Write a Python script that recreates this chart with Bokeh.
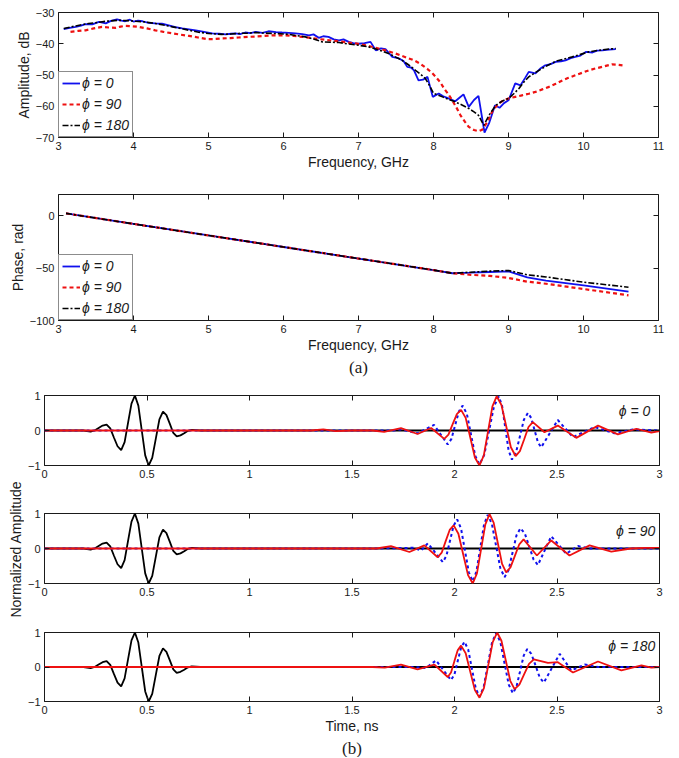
import math
from bokeh.plotting import figure
from bokeh.models import Range1d, FixedTicker, LinearAxis, Label, Title
from bokeh.layouts import column, row
from bokeh.embed import file_html
from bokeh.resources import INLINE

SANS = "Liberation Sans"
SERIF = "Liberation Serif"
INK = "#1a1a1a"
BLUE = "#1010ee"
RED = "#ee1111"

# ---------------- (a) amplitude ----------------
amp0_f = [3.07, 3.15, 3.23, 3.30, 3.36, 3.45, 3.54, 3.63, 3.70, 3.78, 3.84, 3.89, 3.95, 4.00, 4.06,
          4.12, 4.20, 4.29, 4.38, 4.47, 4.56, 4.65, 4.74, 4.83, 4.94, 5.05, 5.14, 5.23, 5.30, 5.36,
          5.42, 5.49, 5.56, 5.63, 5.72, 5.80, 5.90, 5.98, 6.07, 6.16, 6.25, 6.34, 6.40, 6.47, 6.53,
          6.60, 6.67, 6.74, 6.80, 6.87, 6.93, 7.00, 7.08, 7.16, 7.23, 7.30, 7.36, 7.45, 7.54, 7.60,
          7.65, 7.70, 7.74, 7.80, 7.86, 7.92, 7.99, 8.07, 8.13, 8.20, 8.29, 8.35, 8.40, 8.47, 8.54,
          8.60, 8.68, 8.74, 8.82, 8.88, 8.94, 9.00, 9.09, 9.16, 9.22, 9.27, 9.36, 9.42, 9.49, 9.56,
          9.63, 9.70, 9.76, 9.83, 9.89, 9.96, 10.03, 10.12, 10.18, 10.25, 10.34, 10.43]
amp0_db = [-35.3, -34.9, -34.6, -34.2, -33.7, -33.8, -33.0, -33.5, -32.7, -32.2, -32.6, -32.8, -32.3, -32.9, -32.6,
           -32.8, -33.3, -33.5, -33.6, -34.1, -34.7, -35.1, -35.4, -35.7, -36.2, -36.7, -36.8, -37.0, -36.8, -36.7,
           -36.9, -36.4, -36.6, -36.2, -36.5, -36.0, -36.3, -36.4, -36.5, -36.7, -36.9, -37.3, -37.0, -38.1, -37.6,
           -37.8, -38.6, -38.9, -38.6, -39.4, -39.8, -40.0, -39.8, -39.4, -42.1, -41.5, -41.7, -44.2, -44.7, -45.5,
           -47.4, -47.6, -48.5, -51.7, -51.5, -50.6, -57.0, -55.9, -56.8, -57.5, -58.4, -57.2, -56.2, -60.2, -58.0,
           -56.7, -68.4, -65.5, -59.7, -60.5, -59.0, -58.1, -52.7, -53.3, -51.0, -49.0, -49.5, -48.0, -46.9, -46.5,
           -45.8, -45.6, -45.3, -44.6, -44.2, -43.8, -42.6, -42.8, -42.2, -42.1, -41.9, -41.7]

amp90_f = [3.16, 3.26, 3.36, 3.47, 3.58, 3.67, 3.76, 3.83, 3.89, 3.98, 4.07, 4.18, 4.29, 4.40, 4.52,
           4.63, 4.74, 4.86, 4.98, 5.08, 5.18, 5.29, 5.40, 5.52, 5.63, 5.74, 5.85, 5.94, 6.03, 6.14,
           6.25, 6.36, 6.47, 6.58, 6.69, 6.82, 6.96, 7.10, 7.23, 7.31, 7.40, 7.49, 7.58, 7.66, 7.74,
           7.83, 7.92, 7.98, 8.03, 8.09, 8.14, 8.20, 8.25, 8.31, 8.36, 8.42, 8.47, 8.54, 8.60, 8.65,
           8.69, 8.74, 8.78, 8.83, 8.87, 8.93, 9.00, 9.09, 9.18, 9.27, 9.36, 9.45, 9.54, 9.63, 9.72,
           9.80, 9.89, 9.98, 10.07, 10.16, 10.25, 10.31, 10.38, 10.45, 10.52]
amp90_db = [-36.2, -35.9, -35.7, -35.1, -34.6, -34.8, -34.9, -34.5, -34.3, -34.4, -34.6, -35.1, -35.7, -36.2, -36.7,
            -37.1, -37.5, -38.0, -38.5, -38.5, -38.3, -38.2, -38.0, -37.8, -37.7, -37.5, -37.3, -37.3, -37.3, -37.5,
            -37.8, -38.1, -38.5, -38.8, -39.1, -39.5, -39.9, -40.5, -41.3, -41.8, -42.4, -43.1, -43.9, -44.6, -45.3,
            -46.5, -48.1, -49.3, -50.6, -52.3, -54.3, -56.2, -58.1, -60.6, -62.9, -65.0, -66.6, -67.6, -68.0, -67.5,
            -66.1, -64.0, -61.8, -60.2, -59.1, -58.2, -57.5, -57.0, -56.5, -56.0, -55.4, -54.6, -53.8, -52.8, -51.7,
            -50.9, -50.1, -49.3, -48.5, -47.9, -47.4, -47.0, -46.6, -46.7, -46.9]

amp180_f = [3.07, 3.23, 3.40, 3.52, 3.63, 3.80, 3.92, 4.03, 4.15, 4.29, 4.40, 4.52, 4.63, 4.74, 4.87,
            5.00, 5.18, 5.30, 5.40, 5.52, 5.63, 5.75, 5.85, 5.96, 6.07, 6.18, 6.29, 6.40, 6.52, 6.63,
            6.74, 6.87, 7.00, 7.12, 7.23, 7.32, 7.40, 7.49, 7.58, 7.67, 7.76, 7.83, 7.89, 7.95, 8.00,
            8.06, 8.12, 8.20, 8.29, 8.38, 8.47, 8.54, 8.60, 8.67, 8.74, 8.83, 8.92, 9.00, 9.07, 9.14,
            9.20, 9.27, 9.36, 9.45, 9.54, 9.63, 9.74, 9.85, 9.96, 10.07, 10.20, 10.34, 10.43]
amp180_db = [-35.1, -34.3, -33.5, -33.2, -32.8, -32.5, -32.6, -32.8, -33.0, -33.5, -34.0, -34.6, -35.1, -35.7, -36.3,
             -36.7, -37.0, -36.9, -36.7, -36.6, -36.4, -36.6, -36.7, -36.8, -37.0, -37.4, -37.8, -38.5, -39.4, -39.5,
             -39.6, -40.1, -40.5, -40.9, -41.7, -42.4, -43.1, -44.2, -45.3, -46.8, -48.5, -49.8, -51.1, -53.5, -55.9,
             -56.4, -57.0, -57.8, -58.6, -59.6, -60.7, -61.8, -62.9, -66.1, -62.9, -59.7, -58.3, -57.5, -56.0, -54.3,
             -52.4, -50.6, -49.2, -47.9, -46.7, -45.6, -44.9, -44.2, -43.4, -42.6, -42.1, -41.7, -41.5]

# ---------------- (a) phase ----------------
phase_f = [3.1, 4.0, 5.0, 6.0, 7.0, 8.0, 8.25, 8.5, 8.75, 9.0, 9.25, 9.5, 10.0, 10.6]
phase0 = [2, -8, -19, -30, -41, -52, -55, -54.5, -53.8, -53.3, -59.0, -62.0, -66.5, -72.4]
phase90 = [2, -8, -19, -30, -41, -52, -55, -56.5, -57.5, -59.5, -63.0, -65.0, -70.0, -76.0]
phase180 = [2, -8, -19, -30, -41, -52, -55, -54.0, -53.0, -52.4, -56.5, -58.5, -63.5, -68.3]

freq_ticks = [3, 4, 5, 6, 7, 8, 9, 10, 11]
freq_labels = ["3", "4", "5", "6", "7", "8", "9", "10", "11"]
amp_ticks = [-70, -60, -50, -40, -30]
amp_labels = ["\u221270", "\u221260", "\u221250", "\u221240", "\u221230"]
phase_ticks = [-100, -50, 0]
phase_labels = ["\u2212100", "\u221250", "0"]
series_names = ["\u03d5 = 0", "\u03d5 = 90", "\u03d5 = 180"]

# ---------------- (b) time domain ----------------
ref_t = [0.0, 0.19, 0.225, 0.2445, 0.264, 0.2835, 0.303, 0.3208, 0.3385, 0.3563, 0.374, 0.3908, 0.4075,
         0.4243, 0.441, 0.4578, 0.4745, 0.4913, 0.508, 0.5255, 0.543, 0.5605, 0.578, 0.5948, 0.6115,
         0.6283, 0.645, 0.6633, 0.6815, 0.6998, 0.718, 0.76, 3.0]
ref_y = [0.0, 0.0, -0.03, 0.0, 0.07, 0.14, 0.17, 0.06, -0.2, -0.45, -0.56, -0.33, 0.22,
         0.77, 1.0, 0.71, 0.0, -0.71, -1.0, -0.78, -0.23, 0.32, 0.54, 0.44, 0.19,
         -0.07, -0.17, -0.14, -0.08, -0.01, 0.02, 0.0, 0.0]

rx0_t = [0.0, 1.30, 1.36, 1.42, 1.50, 1.60, 1.657, 1.739, 1.82, 1.886, 1.95, 1.9705, 1.991, 2.0115, 2.032,
         2.0545, 2.077, 2.0995, 2.122, 2.143, 2.164, 2.185, 2.206, 2.229, 2.252, 2.275, 2.298, 2.319,
         2.34, 2.361, 2.382, 2.439, 2.504, 2.594, 2.70, 2.797, 2.887, 2.96, 3.0]
rx0_y = [0.0, 0.0, 0.03, -0.02, 0.0, 0.0, -0.04, 0.07, -0.1, 0.07, -0.24, -0.12, 0.18, 0.47, 0.59,
         0.36, -0.2, -0.77, -1.0, -0.71, -0.01, 0.69, 0.98, 0.73, 0.13, -0.48, -0.73, -0.59,
         -0.25, 0.1, 0.24, -0.05, 0.14, -0.21, 0.14, -0.11, 0.05, -0.06, -0.02]
sim0_t = [0.0, 1.70, 1.74, 1.82, 1.90, 1.967, 1.985, 2.0035, 2.022, 2.04, 2.0605, 2.081, 2.1015, 2.122,
          2.1455, 2.169, 2.1925, 2.216, 2.232, 2.248, 2.264, 2.28, 2.2995, 2.319, 2.3385, 2.358,
          2.374, 2.3905, 2.407, 2.423, 2.504, 2.578, 2.683, 2.78, 2.87, 3.0]
sim0_y = [0.0, 0.0, 0.03, -0.08, 0.16, -0.4, -0.24, 0.16, 0.55, 0.71, 0.47, -0.13, -0.73, -0.97,
          -0.69, 0.0, 0.69, 0.97, 0.71, 0.07, -0.57, -0.83, -0.64, -0.17, 0.31, 0.5,
          0.36, 0.01, -0.34, -0.48, 0.3, -0.19, 0.1, -0.08, 0.03, 0.0]

rx90_t = [0.0, 1.62, 1.69, 1.78, 1.853, 1.918, 1.9375, 1.957, 1.9765, 1.996, 2.019, 2.0425, 2.066, 2.089,
          2.1095, 2.13, 2.1505, 2.171, 2.191, 2.2115, 2.232, 2.252, 2.273, 2.2945, 2.316, 2.337,
          2.402, 2.472, 2.561, 2.659, 2.765, 2.86, 2.93, 3.0]
rx90_y = [0.0, 0.0, 0.07, -0.1, 0.09, -0.25, -0.12, 0.21, 0.53, 0.66, 0.42, -0.17, -0.76, -1.0,
          -0.71, -0.01, 0.69, 0.98, 0.74, 0.15, -0.44, -0.68, -0.54, -0.21, 0.12, 0.26,
          -0.2, 0.23, -0.2, 0.09, -0.09, 0.0, 0.02, 0.02]
sim90_t = [0.0, 1.62, 1.80, 1.837, 1.87, 1.943, 1.9605, 1.978, 1.9955, 2.013, 2.032, 2.051, 2.07, 2.089,
           2.107, 2.1255, 2.144, 2.162, 2.1825, 2.203, 2.2235, 2.244, 2.2635, 2.283, 2.3025, 2.322,
           2.343, 2.3645, 2.386, 2.407, 2.472, 2.545, 2.602, 2.66, 3.0]
sim90_y = [0.0, 0.0, 0.02, -0.06, 0.15, -0.39, -0.21, 0.22, 0.65, 0.83, 0.57, -0.06, -0.68, -0.94,
           -0.66, 0.01, 0.68, 0.96, 0.7, 0.07, -0.56, -0.82, -0.62, -0.12, 0.38, 0.58,
           0.43, 0.06, -0.32, -0.47, 0.35, -0.15, 0.07, 0.0, 0.0]

rx180_t = [0.0, 1.60, 1.66, 1.739, 1.82, 1.902, 1.967, 1.983, 1.9995, 2.016, 2.032, 2.0545, 2.077, 2.0995,
           2.122, 2.1435, 2.165, 2.1865, 2.208, 2.229, 2.2505, 2.272, 2.293, 2.3165, 2.34, 2.3635,
           2.387, 2.456, 2.504, 2.578, 2.70, 2.814, 2.912, 2.96, 3.0]
rx180_y = [0.0, 0.0, -0.02, 0.07, -0.07, 0.07, -0.29, -0.16, 0.17, 0.49, 0.62, 0.4, -0.14, -0.67,
           -0.89, -0.61, 0.06, 0.72, 1.0, 0.76, 0.18, -0.4, -0.64, -0.51, -0.21, 0.09,
           0.22, 0.12, 0.14, -0.16, 0.16, -0.1, 0.05, -0.02, 0.0]
sim180_t = [0.0, 1.80, 1.86, 1.91, 1.983, 1.9995, 2.016, 2.0325, 2.049, 2.067, 2.0855, 2.104, 2.122,
            2.142, 2.1625, 2.183, 2.203, 2.2235, 2.244, 2.2645, 2.285, 2.3025, 2.32, 2.3375, 2.355,
            2.375, 2.3955, 2.416, 2.436, 2.513, 2.57, 2.635, 2.70, 3.0]
sim180_y = [0.0, 0.0, -0.03, 0.19, -0.38, -0.22, 0.18, 0.57, 0.73, 0.5, -0.07, -0.63, -0.86,
            -0.59, 0.06, 0.71, 0.98, 0.73, 0.11, -0.51, -0.76, -0.57, -0.12, 0.33, 0.52,
            0.38, 0.04, -0.31, -0.45, 0.38, -0.1, 0.07, 0.0, 0.0]

time_ticks = [0, 0.5, 1, 1.5, 2, 2.5, 3]
time_labels = ["0", "0.5", "1", "1.5", "2", "2.5", "3"]
norm_ticks = [-1, 0, 1]
norm_labels = ["\u22121", "0", "1"]
time_panels = [
    ("\u03d5 = 0", rx0_t, rx0_y, sim0_t, sim0_y),
    ("\u03d5 = 90", rx90_t, rx90_y, sim90_t, sim90_y),
    ("\u03d5 = 180", rx180_t, rx180_y, sim180_t, sim180_y),
]


def style(p, xticks, xlabels, yticks, ylabels, xlabel=None, ylabel=None):
    p.xgrid.grid_line_color = None
    p.ygrid.grid_line_color = None
    p.outline_line_color = INK
    p.outline_line_width = 1
    p.background_fill_color = "white"
    p.border_fill_color = "white"
    for ax, ticks, labels in ((p.xaxis[0], xticks, xlabels), (p.yaxis[0], yticks, ylabels)):
        ax.ticker = FixedTicker(ticks=ticks)
        ax.major_label_overrides = dict(zip(ticks, labels))
        ax.major_tick_in = 5
        ax.major_tick_out = 0
        ax.minor_tick_in = 0
        ax.minor_tick_out = 0
        ax.axis_line_color = None
        ax.major_tick_line_color = INK
        ax.major_label_text_font = SANS
        ax.major_label_text_font_size = "11px"
        ax.major_label_text_color = INK
        ax.major_label_standoff = 4
        ax.axis_label_text_font = SANS
        ax.axis_label_text_font_size = "14px"
        ax.axis_label_text_font_style = "normal"
        ax.axis_label_text_color = INK
        ax.axis_label_standoff = 1
    if xlabel:
        p.xaxis[0].axis_label = xlabel
    if ylabel:
        p.yaxis[0].axis_label = ylabel
    for loc, ticks in (("above", xticks), ("right", yticks)):
        ax = LinearAxis(ticker=FixedTicker(ticks=ticks),
                        major_label_overrides={t: "" for t in ticks},
                        major_label_text_font_size="1px", major_label_standoff=0,
                        major_tick_in=5, major_tick_out=0, minor_tick_in=0, minor_tick_out=0,
                        axis_line_color=None, major_tick_line_color=INK)
        p.add_layout(ax, loc)


def legend_style(p):
    lg = p.legend[0]
    lg.location = "bottom_left"
    lg.margin = 0
    lg.padding = 3
    lg.spacing = 5
    lg.glyph_width = 18
    lg.glyph_height = 16
    lg.label_height = 16
    lg.label_standoff = 2
    lg.border_line_color = INK
    lg.border_line_width = 1
    lg.background_fill_alpha = 1
    lg.label_text_font = SANS
    lg.label_text_font_size = "14px"
    lg.label_text_font_style = "italic"
    lg.label_text_color = INK


DOTDASH = "6 2 2 2"

# ---- amplitude figure ----
p1 = figure(width=668, height=175, x_range=Range1d(3, 11), y_range=Range1d(-70, -30),
            output_backend="svg", toolbar_location=None, title=None,
            min_border_left=58, min_border_right=10, min_border_top=12, min_border_bottom=38)
style(p1, freq_ticks, freq_labels, amp_ticks, amp_labels, "Frequency, GHz", "Amplitude, dB")
p1.line(amp0_f, amp0_db, line_color=BLUE, line_width=1.8, legend_label=series_names[0])
p1.line(amp90_f, amp90_db, line_color=RED, line_width=2.2, line_dash="4 3", legend_label=series_names[1])
p1.line(amp180_f, amp180_db, line_color="black", line_width=1.6, line_dash=DOTDASH, legend_label=series_names[2])
legend_style(p1)

# ---- phase figure ----
p2 = figure(width=668, height=203, x_range=Range1d(3, 11), y_range=Range1d(-100, 20),
            output_backend="svg", toolbar_location=None, title=None,
            min_border_left=58, min_border_right=10, min_border_top=19, min_border_bottom=58)
style(p2, freq_ticks, freq_labels, phase_ticks, phase_labels, "Frequency, GHz", "Phase, rad")
p2.line(phase_f, phase0, line_color=BLUE, line_width=1.8, legend_label=series_names[0])
p2.line(phase_f, phase90, line_color=RED, line_width=2.2, line_dash="4 3", legend_label=series_names[1])
p2.line(phase_f, phase180, line_color="black", line_width=1.6, line_dash=DOTDASH, legend_label=series_names[2])
legend_style(p2)
p2.add_layout(Title(text="(a)", align="center", text_font=SERIF, text_font_size="17px",
                    text_font_style="normal", text_color=INK, standoff=0), "below")

# ---- time figures ----
time_figs = []
tops = [17, 28, 29]
bottoms = [20, 20, 55]
heights = [107, 118, 154]
label_x = [2.955, 2.98, 2.98]
label_y = [0.57, 0.51, 0.61]
for i, (name, rt, ry, st, sy) in enumerate(time_panels):
    p = figure(width=644, height=heights[i], x_range=Range1d(0, 3), y_range=Range1d(-1, 1),
               output_backend="svg", toolbar_location=None, title=None,
               min_border_left=20, min_border_right=9, min_border_top=tops[i],
               min_border_bottom=bottoms[i])
    style(p, time_ticks, time_labels, norm_ticks, norm_labels,
          "Time, ns" if i == 2 else None, None)
    p.line(ref_t, ref_y, line_color="black", line_width=1.8)
    p.line(st, sy, line_color=BLUE, line_width=2.0, line_dash="3 3")
    p.line(rt, ry, line_color=RED, line_width=1.8)
    p.add_layout(Label(x=label_x[i], y=label_y[i], text=name, text_align="right",
                       text_baseline="middle", text_font=SANS, text_font_size="14px",
                       text_font_style="italic", text_color=INK))
    time_figs.append(p)

time_figs[2].add_layout(Title(text="(b)", align="center", text_font=SERIF, text_font_size="17px",
                              text_font_style="normal", text_color=INK, standoff=0), "below")

lab = figure(width=24, height=sum(heights), x_range=Range1d(0, 1), y_range=Range1d(0, 1),
             output_backend="svg", toolbar_location=None, title=None,
             x_axis_type=None, y_axis_type=None, min_border=0)
lab.outline_line_color = None
lab.xgrid.grid_line_color = None
lab.ygrid.grid_line_color = None
lab.add_layout(Label(x=0.66, y=0.55, text="Normalized Amplitude", angle=math.pi / 2,
                     text_align="center", text_baseline="middle", text_font=SANS,
                     text_font_size="14px", text_color=INK))

layout = column(p1, p2, row(lab, column(*time_figs)))
open("out.html", "w").write(file_html(layout, INLINE))
